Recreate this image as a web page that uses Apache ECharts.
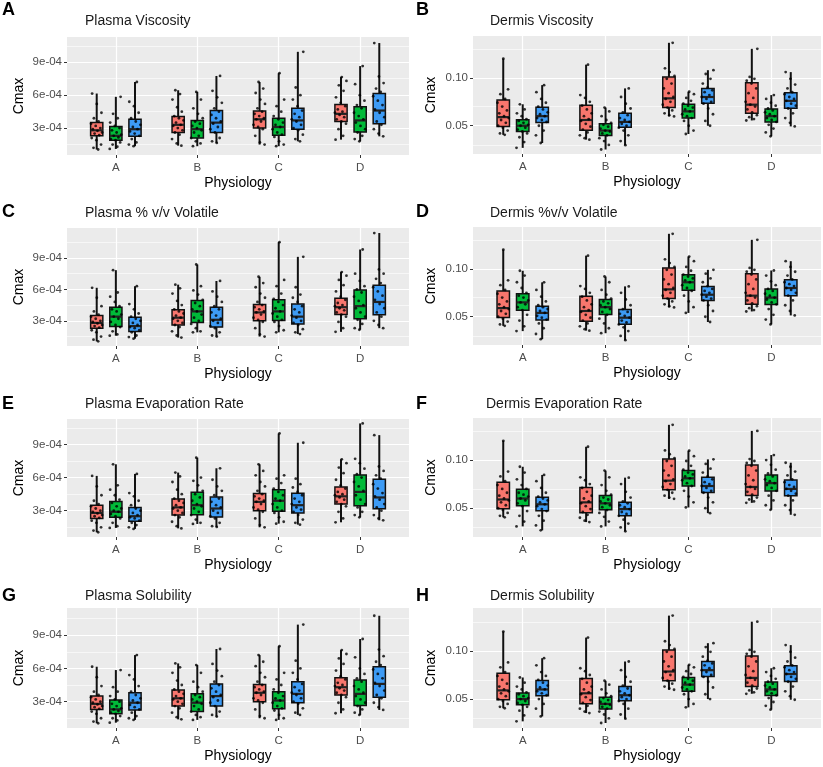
<!DOCTYPE html>
<html>
<head>
<meta charset="utf-8">
<script src="https://cdn.jsdelivr.net/npm/echarts@6/dist/echarts.min.js"></script>
<style>html,body{margin:0;padding:0;background:#fff;}#main{width:823px;height:767px;}</style>
</head>
<body>
<div id="main"></div>
<script>
// ---------------- DATA ----------------
const categories = ['A', 'B', 'C', 'D'];
const plasmaTicks = [3, 6, 9];           // labelled ticks (×1e-4)
const plasmaMinor = [1.5, 4.5, 7.5, 10.5];
const dermisTicks = [0.05, 0.10];
const dermisMinor = [0.025, 0.075, 0.125];

// Box summaries: [lower whisker, Q1, median, Q3, upper whisker] per category A..D
// Plasma values in units of 1e-4
const plasmaRedBox = [[1.05,2.3,2.8,3.5,6.15],[1.4,2.6,3.3,4.05,6.45],[1.5,3.0,3.8,4.55,7.2],[1.95,3.6,4.3,5.15,7.65]];
const plasmaRedPts = [
  [1.05,1.2,1.5,1.9,2.1,2.35,2.5,2.6,2.75,2.9,3.0,3.2,3.4,3.6,3.9,4.4,5.2,6.15],
  [1.4,1.6,2.0,2.4,2.6,2.8,3.0,3.2,3.3,3.5,3.7,3.9,4.1,4.5,4.9,5.6,6.1,6.45],
  [1.5,1.7,2.3,2.9,3.1,3.3,3.6,3.8,3.9,4.1,4.3,4.5,4.8,5.2,5.6,6.2,6.6,7.2],
  [1.95,2.3,2.9,3.4,3.6,3.8,4.0,4.2,4.4,4.5,4.7,5.0,5.3,5.8,6.4,6.9,7.3,7.65]];

const viscPlasmaGreenBox = [[1.1,1.9,2.3,3.15,5.85],[1.35,2.1,2.9,3.7,6.3],[1.35,2.35,3.1,3.9,8.0],[1.8,2.65,3.7,4.95,8.65]];
const viscPlasmaBlueBox = [[1.35,2.25,2.9,3.8,7.2],[1.65,2.6,3.5,4.6,7.75],[1.8,2.9,3.7,4.8,9.95],[2.25,3.4,4.6,6.15,10.75]];
const viscPlasmaGreenPts = [
  [1.1,1.3,1.5,1.7,1.9,2.0,2.15,2.3,2.4,2.6,2.8,3.0,3.2,3.5,3.9,4.3,5.85],
  [1.35,1.6,1.8,2.1,2.3,2.6,2.8,3.0,3.2,3.4,3.6,3.9,4.3,4.8,5.6,6.3],
  [1.35,1.5,1.8,2.2,2.4,2.6,2.9,3.1,3.3,3.5,3.8,4.1,4.5,5.0,5.6,8.0],
  [1.8,2.0,2.3,2.6,2.9,3.2,3.5,3.8,4.1,4.4,4.8,5.1,5.5,6.0,7.0,8.65]];
const viscPlasmaBluePts = [
  [1.35,1.5,1.7,2.0,2.3,2.5,2.7,2.9,3.1,3.3,3.6,3.9,4.4,5.0,5.4,7.2],
  [1.65,1.8,2.1,2.6,2.9,3.1,3.4,3.6,3.9,4.2,4.5,4.8,5.3,5.8,6.4,7.75],
  [1.8,2.0,2.4,2.8,3.0,3.3,3.6,3.8,4.0,4.3,4.6,5.0,5.6,6.0,6.7,9.95],
  [2.25,2.5,2.9,3.3,3.6,4.0,4.4,4.7,5.1,5.5,5.9,6.3,6.6,7.1,7.7,10.75]];

const volPlasmaGreenBox = [[1.58,2.46,3.4,4.3,7.83],[1.9,2.84,3.9,4.93,8.37],[1.9,3.03,3.9,5.0,10.5],[2.15,3.2,4.4,5.94,9.8]];
const volPlasmaBlueBox = [[1.3,1.99,2.5,3.35,6.3],[1.5,2.4,3.1,4.3,6.8],[1.74,2.7,3.4,4.6,9.1],[2.3,3.57,4.8,6.4,11.37]];
const volPlasmaGreenPts = [
  [1.58,1.7,2.0,2.4,2.6,2.9,3.2,3.4,3.6,3.9,4.1,4.4,4.8,5.3,5.7,7.83],
  [1.9,2.0,2.3,2.7,3.0,3.3,3.6,3.9,4.1,4.4,4.7,5.0,5.5,5.9,6.3,8.37],
  [1.9,2.1,2.5,2.9,3.1,3.4,3.7,3.9,4.2,4.5,4.8,5.1,5.6,6.3,6.9,10.5],
  [2.15,2.3,2.7,3.1,3.4,3.8,4.2,4.5,4.9,5.3,5.7,6.0,6.3,6.8,7.5,9.8]];
const volPlasmaBluePts = [
  [1.3,1.45,1.6,1.9,2.1,2.3,2.4,2.6,2.8,3.0,3.2,3.4,3.7,4.1,4.6,6.3],
  [1.5,1.6,1.9,2.3,2.5,2.8,3.0,3.2,3.5,3.8,4.1,4.4,4.8,5.3,5.8,6.8],
  [1.74,1.9,2.2,2.6,2.8,3.0,3.3,3.5,3.8,4.1,4.4,4.8,5.2,5.5,6.2,9.1],
  [2.3,2.6,3.0,3.4,3.8,4.2,4.6,5.0,5.4,5.8,6.2,6.6,7.0,7.5,7.9,11.37]];

const evapPlasmaGreenBox = [[1.44,2.4,2.9,3.84,7.2],[1.8,2.64,3.5,4.68,7.8],[1.83,2.94,3.9,4.89,9.99],[2.4,3.45,4.7,6.24,10.9]];
const evapPlasmaBlueBox = [[1.35,2.04,2.5,3.3,6.33],[1.53,2.43,3.2,4.23,6.84],[1.74,2.79,3.5,4.59,9.15],[2.13,3.18,4.2,5.85,9.84]];
const evapPlasmaGreenPts = [
  [1.44,1.6,1.9,2.3,2.5,2.7,2.9,3.0,3.2,3.4,3.7,4.0,4.4,4.9,5.3,7.2],
  [1.8,1.9,2.2,2.6,2.9,3.2,3.4,3.6,3.9,4.2,4.5,4.8,5.3,5.7,6.0,7.8],
  [1.83,2.0,2.4,2.8,3.0,3.3,3.6,3.9,4.1,4.4,4.7,5.0,5.5,5.9,6.2,9.99],
  [2.4,2.6,2.9,3.3,3.6,4.0,4.4,4.8,5.2,5.6,6.0,6.3,6.8,7.3,7.7,10.9]];
const evapPlasmaBluePts = [
  [1.35,1.5,1.7,1.9,2.1,2.3,2.4,2.6,2.8,3.0,3.2,3.5,3.9,4.3,4.6,6.33],
  [1.53,1.6,1.9,2.3,2.5,2.8,3.0,3.3,3.5,3.8,4.1,4.4,4.8,5.2,5.8,6.84],
  [1.74,1.9,2.2,2.6,2.9,3.1,3.3,3.6,3.8,4.1,4.4,4.7,5.1,5.4,5.9,9.15],
  [2.13,2.3,2.6,3.0,3.3,3.6,4.0,4.3,4.6,5.0,5.4,5.9,6.2,6.6,7.0,9.84]];

// Dermis values
const dermisRedBox = [[0.0405,0.0493,0.059,0.0769,0.120],[0.0355,0.0452,0.056,0.0714,0.1138],[0.0597,0.069,0.0786,0.101,0.1366],[0.0555,0.0631,0.072,0.0948,0.1303]];
const dermisRedPts = [
  [0.0405,0.042,0.045,0.048,0.050,0.053,0.056,0.058,0.060,0.063,0.066,0.070,0.074,0.078,0.083,0.088,0.120],
  [0.0355,0.037,0.040,0.043,0.046,0.049,0.052,0.055,0.057,0.060,0.063,0.067,0.071,0.075,0.079,0.082,0.1138],
  [0.0597,0.061,0.063,0.066,0.069,0.072,0.075,0.078,0.080,0.084,0.089,0.094,0.099,0.102,0.106,0.110,0.1366],
  [0.0555,0.057,0.059,0.061,0.064,0.067,0.070,0.072,0.075,0.079,0.084,0.089,0.094,0.097,0.099,0.101,0.1303]];

const viscDermisGreenBox = [[0.0269,0.0441,0.050,0.0562,0.0724],[0.0252,0.0397,0.045,0.052,0.069],[0.0414,0.058,0.065,0.0724,0.0855],[0.039,0.0538,0.060,0.0676,0.082]];
const viscDermisBlueBox = [[0.032,0.0534,0.060,0.0693,0.0924],[0.0297,0.0483,0.054,0.0631,0.089],[0.050,0.0734,0.080,0.089,0.108],[0.0493,0.0683,0.076,0.0845,0.106]];
const viscDermisGreenPts = [
  [0.0269,0.033,0.038,0.042,0.044,0.046,0.048,0.050,0.051,0.053,0.055,0.057,0.060,0.063,0.067,0.0724],
  [0.0252,0.030,0.034,0.037,0.040,0.042,0.044,0.045,0.047,0.049,0.051,0.053,0.056,0.060,0.065,0.069],
  [0.0414,0.045,0.050,0.055,0.058,0.060,0.062,0.065,0.067,0.069,0.071,0.073,0.076,0.079,0.083,0.0855],
  [0.039,0.043,0.047,0.051,0.054,0.056,0.058,0.060,0.062,0.064,0.066,0.068,0.071,0.074,0.078,0.082]];
const viscDermisBluePts = [
  [0.032,0.040,0.045,0.050,0.054,0.056,0.058,0.060,0.062,0.064,0.067,0.070,0.074,0.078,0.085,0.0924],
  [0.0297,0.034,0.040,0.045,0.048,0.050,0.052,0.054,0.056,0.058,0.061,0.064,0.068,0.073,0.080,0.089],
  [0.050,0.055,0.062,0.068,0.073,0.075,0.078,0.080,0.082,0.085,0.087,0.090,0.094,0.099,0.104,0.108],
  [0.0493,0.053,0.058,0.063,0.068,0.071,0.073,0.076,0.078,0.080,0.083,0.085,0.089,0.093,0.099,0.106]];

const volDermisGreenBox = [[0.035,0.0569,0.065,0.0741,0.098],[0.0328,0.0524,0.060,0.068,0.092],[0.054,0.0776,0.086,0.0938,0.1128],[0.042,0.0628,0.070,0.079,0.0983]];
const volDermisBlueBox = [[0.0266,0.0466,0.054,0.061,0.0859],[0.0255,0.0421,0.049,0.0576,0.0817],[0.0445,0.0669,0.073,0.0817,0.099],[0.0514,0.072,0.080,0.0886,0.108]];
const volDermisGreenPts = [
  [0.035,0.040,0.046,0.052,0.057,0.060,0.063,0.065,0.067,0.070,0.072,0.075,0.080,0.086,0.093,0.098],
  [0.0328,0.038,0.043,0.048,0.052,0.055,0.058,0.060,0.062,0.064,0.066,0.069,0.073,0.078,0.086,0.092],
  [0.054,0.060,0.066,0.072,0.077,0.080,0.083,0.086,0.088,0.090,0.092,0.094,0.098,0.102,0.108,0.1128],
  [0.042,0.047,0.052,0.058,0.063,0.065,0.068,0.070,0.072,0.074,0.077,0.079,0.083,0.087,0.093,0.0983]];
const volDermisBluePts = [
  [0.0266,0.032,0.038,0.043,0.047,0.049,0.051,0.054,0.056,0.058,0.060,0.062,0.066,0.071,0.078,0.0859],
  [0.0255,0.030,0.035,0.039,0.042,0.044,0.046,0.049,0.051,0.053,0.055,0.058,0.062,0.068,0.075,0.0817],
  [0.0445,0.050,0.056,0.062,0.067,0.069,0.071,0.073,0.075,0.077,0.079,0.082,0.086,0.090,0.095,0.099],
  [0.0514,0.056,0.062,0.067,0.072,0.075,0.078,0.080,0.082,0.084,0.086,0.089,0.093,0.097,0.102,0.108]];

const evapDermisGreenBox = [[0.031,0.0524,0.060,0.0697,0.093],[0.031,0.0483,0.055,0.0631,0.089],[0.0507,0.0731,0.081,0.089,0.1097],[0.0483,0.0679,0.076,0.0845,0.1052]];
const evapDermisBlueBox = [[0.0269,0.0472,0.054,0.0614,0.0845],[0.0259,0.0421,0.049,0.0562,0.0817],[0.0448,0.0662,0.073,0.0821,0.1007],[0.0431,0.0628,0.070,0.0793,0.0972]];
const evapDermisGreenPts = [
  [0.031,0.036,0.042,0.047,0.052,0.055,0.058,0.060,0.062,0.064,0.066,0.070,0.074,0.080,0.087,0.093],
  [0.031,0.036,0.041,0.045,0.048,0.051,0.053,0.055,0.057,0.059,0.061,0.064,0.068,0.074,0.082,0.089],
  [0.0507,0.056,0.062,0.068,0.073,0.076,0.079,0.081,0.083,0.085,0.087,0.090,0.094,0.099,0.104,0.1097],
  [0.0483,0.053,0.058,0.063,0.068,0.071,0.074,0.076,0.078,0.080,0.083,0.086,0.090,0.095,0.100,0.1052]];
const evapDermisBluePts = [
  [0.0269,0.032,0.037,0.042,0.047,0.049,0.052,0.054,0.056,0.058,0.060,0.062,0.066,0.071,0.078,0.0845],
  [0.0259,0.030,0.034,0.038,0.042,0.044,0.046,0.049,0.051,0.053,0.055,0.057,0.061,0.067,0.075,0.0817],
  [0.0448,0.050,0.056,0.061,0.066,0.068,0.071,0.073,0.075,0.077,0.080,0.083,0.087,0.091,0.096,0.1007],
  [0.0431,0.048,0.053,0.058,0.063,0.065,0.068,0.070,0.072,0.074,0.077,0.080,0.084,0.088,0.093,0.0972]];

// ---------------- LAYOUT / STYLE ----------------
const FONT = 'Liberation Sans, Arial, Helvetica, sans-serif';
const fills = ['#F8766D', '#00BA38', '#3D9BF5'];
const dodge = [-0.235, 0, 0.235];
const boxW = 0.15;
const jitterW = 0.15;

const panels = [
  {letter:'A', title:'Plasma Viscosity', kind:'plasma', boxes:[plasmaRedBox, viscPlasmaGreenBox, viscPlasmaBlueBox], pts:[plasmaRedPts, viscPlasmaGreenPts, viscPlasmaBluePts],
   grid:{left:67, top:37, width:342, height:118}, ymin:0.55, ymax:11.3, letterXY:[2,11], titleXY:[85,22], nameGap:41},
  {letter:'B', title:'Dermis Viscosity', kind:'dermis', boxes:[dermisRedBox, viscDermisGreenBox, viscDermisBlueBox], pts:[dermisRedPts, viscDermisGreenPts, viscDermisBluePts],
   grid:{left:473, top:36, width:348, height:118}, ymin:0.0205, ymax:0.1437, letterXY:[416,11], titleXY:[490,22], nameGap:35},
  {letter:'C', title:'Plasma % v/v Volatile', kind:'plasma', boxes:[plasmaRedBox, volPlasmaGreenBox, volPlasmaBlueBox], pts:[plasmaRedPts, volPlasmaGreenPts, volPlasmaBluePts],
   grid:{left:67, top:228, width:342, height:118}, ymin:0.6, ymax:11.85, letterXY:[2,213], titleXY:[85,214], nameGap:41},
  {letter:'D', title:'Dermis %v/v Volatile', kind:'dermis', boxes:[dermisRedBox, volDermisGreenBox, volDermisBlueBox], pts:[dermisRedPts, volDermisGreenPts, volDermisBluePts],
   grid:{left:473, top:227, width:348, height:118}, ymin:0.0205, ymax:0.1437, letterXY:[416,213], titleXY:[490,214], nameGap:35},
  {letter:'E', title:'Plasma Evaporation Rate', kind:'plasma', boxes:[plasmaRedBox, evapPlasmaGreenBox, evapPlasmaBlueBox], pts:[plasmaRedPts, evapPlasmaGreenPts, evapPlasmaBluePts],
   grid:{left:67, top:419, width:342, height:118}, ymin:0.62, ymax:11.3, letterXY:[2,405], titleXY:[85,405], nameGap:41},
  {letter:'F', title:'Dermis Evaporation Rate', kind:'dermis', boxes:[dermisRedBox, evapDermisGreenBox, evapDermisBlueBox], pts:[dermisRedPts, evapDermisGreenPts, evapDermisBluePts],
   grid:{left:473, top:418, width:348, height:119}, ymin:0.0200, ymax:0.1437, letterXY:[416,405], titleXY:[486,405], nameGap:35},
  {letter:'G', title:'Plasma Solubility', kind:'plasma', boxes:[plasmaRedBox, viscPlasmaGreenBox, viscPlasmaBlueBox], pts:[plasmaRedPts, viscPlasmaGreenPts, viscPlasmaBluePts],
   grid:{left:67, top:608, width:342, height:120}, ymin:0.62, ymax:11.45, letterXY:[2,597], titleXY:[85,597], nameGap:41},
  {letter:'H', title:'Dermis Solubility', kind:'dermis', boxes:[dermisRedBox, viscDermisGreenBox, viscDermisBlueBox], pts:[dermisRedPts, viscDermisGreenPts, viscDermisBluePts],
   grid:{left:473, top:608, width:348, height:120}, ymin:0.0200, ymax:0.1445, letterXY:[416,597], titleXY:[490,597], nameGap:35}
];

function jitter(i, k) {
  const v = ((i + 1) * 0.6180339887 + k * 0.3819660113) % 1;
  return (v - 0.5) * jitterW;
}

const grids = [], xAxes = [], yAxes = [], series = [], graphics = [];
panels.forEach((p, pi) => {
  grids.push(Object.assign({show:true, backgroundColor:'#EBEBEB', borderWidth:0}, p.grid));
  xAxes.push({
    type:'value', gridIndex:pi, min:0.4, max:4.6,
    name:'Physiology', nameLocation:'middle', nameGap:21,
    nameTextStyle:{fontFamily:FONT, fontSize:14, color:'#000'},
    axisLine:{show:false},
    axisTick:{show:true, length:3, lineStyle:{color:'#333', width:1}, customValues:[1,2,3,4]},
    axisLabel:{customValues:[1,2,3,4], formatter:v => categories[Math.round(v) - 1], color:'#4D4D4D', fontFamily:FONT, fontSize:11.5, margin:7},
    splitLine:{show:false}
  });
  const ticks = p.kind === 'plasma' ? plasmaTicks : dermisTicks;
  const minors = p.kind === 'plasma' ? plasmaMinor : dermisMinor;
  yAxes.push({
    type:'value', gridIndex:pi, min:p.ymin, max:p.ymax,
    name:'Cmax', nameLocation:'middle', nameGap:p.nameGap,
    nameTextStyle:{fontFamily:FONT, fontSize:14, color:'#000'},
    axisLine:{show:false},
    axisTick:{show:true, length:3, lineStyle:{color:'#333', width:1}, customValues:ticks},
    axisLabel:{customValues:ticks, color:'#4D4D4D', fontFamily:FONT, fontSize:11.5, margin:5,
      formatter: v => p.kind === 'plasma' ? (Math.round(v) + 'e-04') : v.toFixed(2)},
    splitLine:{show:false}
  });
  // gridlines
  const ml = [];
  minors.forEach(v => ml.push({yAxis:v, lineStyle:{color:'#fff', width:0.6, type:'solid'}}));
  ticks.forEach(v => ml.push({yAxis:v, lineStyle:{color:'#fff', width:1.2, type:'solid'}}));
  [1,2,3,4].forEach(v => ml.push({xAxis:v, lineStyle:{color:'#fff', width:1.2, type:'solid'}}));
  series.push({
    type:'line', xAxisIndex:pi, yAxisIndex:pi, data:[], z:1, silent:true,
    markLine:{silent:true, z:1, symbol:['none','none'], label:{show:false}, animation:false, data:ml}
  });
  // boxes
  p.boxes.forEach((boxArr, k) => {
    const data = boxArr.map((b, ci) => [ci + 1 + dodge[k]].concat(b));
    series.push({
      type:'custom', xAxisIndex:pi, yAxisIndex:pi, z:8, silent:true,
      encode:{x:0, y:[1,2,3,4,5]},
      data:data,
      renderItem:(params, api) => {
        const x = api.value(0);
        const lo = api.coord([x, api.value(1)]);
        const q1 = api.coord([x, api.value(2)]);
        const md = api.coord([x, api.value(3)]);
        const q3 = api.coord([x, api.value(4)]);
        const hi = api.coord([x, api.value(5)]);
        const w = api.size([boxW, 0])[0];
        return {type:'group', children:[
          {type:'line', shape:{x1:lo[0], y1:lo[1], x2:hi[0], y2:hi[1]}, style:{stroke:'#111', lineWidth:2}},
          {type:'rect', shape:{x:q3[0] - w/2, y:q3[1], width:w, height:q1[1] - q3[1]}, style:{fill:fills[k], stroke:'#111', lineWidth:1.5}},
          {type:'line', shape:{x1:md[0] - w/2, y1:md[1], x2:md[0] + w/2, y2:md[1]}, style:{stroke:'#222', lineWidth:2.2}}
        ]};
      }
    });
  });
  // jittered points
  const sdata = [];
  p.pts.forEach((grp, k) => {
    grp.forEach((vals, ci) => {
      vals.forEach((v, i) => sdata.push([ci + 1 + dodge[k] + jitter(i, ci * 3 + k), v]));
    });
  });
  series.push({
    type:'scatter', xAxisIndex:pi, yAxisIndex:pi, z:9, silent:true,
    symbol:'circle', symbolSize:2.8, itemStyle:{color:'#000'}, data:sdata
  });
  graphics.push({type:'text', left:p.letterXY[0], top:p.letterXY[1] - 10, style:{text:p.letter, font:'bold 18px ' + FONT, fill:'#000'}});
  graphics.push({type:'text', left:p.titleXY[0], top:p.titleXY[1] - 8, style:{text:p.title, font:'14px ' + FONT, fill:'#1A1A1A'}});
});

const chart = echarts.init(document.getElementById('main'), null, {renderer:'canvas'});
chart.setOption({
  animation:false,
  backgroundColor:'#fff',
  grid:grids, xAxis:xAxes, yAxis:yAxes, series:series, graphic:graphics
});
</script>
</body>
</html>
